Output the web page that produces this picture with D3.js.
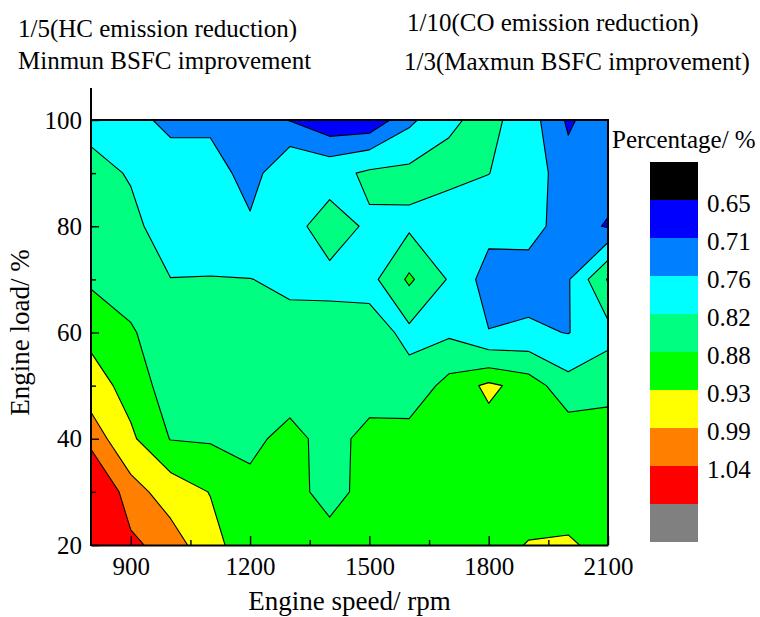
<!DOCTYPE html>
<html>
<head>
<meta charset="utf-8">
<script src="https://cdn.jsdelivr.net/npm/d3@7.9.0/dist/d3.min.js"></script>
<style>
  body { margin: 0; background: #fff; }
  svg text { font-family: 'Liberation Serif', 'Times New Roman', Times, serif; fill: #000; }
</style>
</head>
<body>
<svg id="chart" width="760" height="617"></svg>
<script>
// grid of the map: engine speed (columns) x engine load (rows, top = 100 %)
const speeds = [800, 900, 1000, 1100, 1200, 1300, 1400, 1500, 1600, 1700, 1800, 1900, 2000, 2100];
const loads = [100, 90, 80, 70, 60, 50, 40, 30, 20];

const row100 = [0.80, 0.785, 0.74, 0.745, 0.725, 0.708, 0.67, 0.67, 0.747, 0.81, 0.839, 0.785, 0.702, 0.745];
const row90  = [0.84, 0.815, 0.80, 0.79, 0.735, 0.812, 0.80, 0.83, 0.835, 0.84, 0.821, 0.79, 0.73, 0.735];
const row80  = [0.85, 0.835, 0.79, 0.79, 0.77, 0.805, 0.84, 0.813, 0.81, 0.777, 0.78, 0.78, 0.735, 0.705];
const row70  = [0.872, 0.85, 0.821, 0.822, 0.821, 0.81, 0.809, 0.80, 0.89, 0.815, 0.733, 0.735, 0.755, 0.885];
const row60  = [0.915, 0.887, 0.84, 0.845, 0.84, 0.836, 0.836, 0.844, 0.806, 0.81, 0.762, 0.77, 0.758, 0.80];
const row50  = [0.955, 0.91, 0.855, 0.86, 0.855, 0.86, 0.85, 0.86, 0.839, 0.90, 0.94, 0.911, 0.842, 0.86];
const row40  = [1.025, 0.939, 0.878, 0.875, 0.87, 0.893, 0.865, 0.893, 0.905, 0.905, 0.91, 0.905, 0.918, 0.91];
const row30  = [1.10, 1.015, 0.96, 0.928, 0.891, 0.89, 0.87, 0.89, 0.91, 0.91, 0.91, 0.91, 0.90, 0.91];
const row20  = [1.12, 1.05, 1.02, 0.95, 0.896, 0.90, 0.891, 0.90, 0.91, 0.915, 0.915, 0.932, 0.937, 0.912];
const ratio = [row100, row90, row80, row70, row60, row50, row40, row30, row20];

// colour levels (legend goes from black at the top to grey at the bottom)
const levels = [0.65, 0.71, 0.76, 0.82, 0.88, 0.93, 0.99, 1.04];
const levelLabels = ['0.65', '0.71', '0.76', '0.82', '0.88', '0.93', '0.99', '1.04'];
const bandColors = ['#000000', '#0000ff', '#0080ff', '#00ffff', '#00ff80', '#00ff00', '#ffff00', '#ff8000', '#ff0000', '#808080'];

const xTicks = [900, 1200, 1500, 1800, 2100];
const xMinor = [1050, 1350, 1650, 1950];
const yTicks = [20, 40, 60, 80, 100];
const yMinor = [30, 50, 70, 90];

const headerLeft = ['1/5(HC emission reduction)', 'Minmun BSFC improvement'];
const headerRight = ['1/10(CO emission reduction)', '1/3(Maxmun BSFC improvement)'];

const FONT = "'Liberation Serif', 'Times New Roman', Times, serif";

const svg = d3.select('#chart').attr('font-family', FONT);
svg.append('rect').attr('width', 760).attr('height', 617).attr('fill', '#fff');

const x = d3.scaleLinear().domain([800, 2100]).range([91, 608]);
const y = d3.scaleLinear().domain([20, 100]).range([545, 120]);

// contour bands
const n = speeds.length, m = loads.length;
const sStep = speeds[1] - speeds[0];
const lStep = loads[0] - loads[1];
const grid = ratio.flat();
const bands = d3.contours().size([n, m]).thresholds(levels)(grid);

// grid value i sits at contour coordinate i + 0.5
const proj = d3.geoTransform({
  point(gx, gy) {
    this.stream.point(x(speeds[0] + (gx - 0.5) * sStep), y(loads[0] - (gy - 0.5) * lStep));
  }
});
const path = d3.geoPath(proj);

svg.append('clipPath').attr('id', 'plot-clip')
  .append('rect')
  .attr('x', x(800)).attr('y', y(100))
  .attr('width', x(2100) - x(800)).attr('height', y(20) - y(100));

const plot = svg.append('g').attr('clip-path', 'url(#plot-clip)');
plot.append('rect')
  .attr('x', x(800)).attr('y', y(100))
  .attr('width', x(2100) - x(800)).attr('height', y(20) - y(100))
  .attr('fill', bandColors[0]);

plot.selectAll('path')
  .data(bands)
  .join('path')
  .attr('d', path)
  .attr('fill', (d, i) => bandColors[i + 1])
  .attr('stroke', '#000')
  .attr('stroke-width', 1.1)
  .attr('stroke-linejoin', 'round');

// frame (top + right)
svg.append('path')
  .attr('d', `M${x(800)},${y(100)}H${x(2100)}V${y(20)}`)
  .attr('fill', 'none').attr('stroke', '#000').attr('stroke-width', 2);

// x axis
const xAxis = svg.append('g').attr('transform', `translate(0,${y(20)})`);
xAxis.call(d3.axisBottom(x).tickValues(xTicks).tickSize(-9).tickPadding(12).tickSizeOuter(0).tickFormat(d3.format('d')));
xAxis.append('g').call(d3.axisBottom(x).tickValues(xMinor).tickSize(-5).tickFormat(''))
  .call(g => g.select('.domain').remove());
xAxis.select('.domain').attr('stroke-width', 2);
xAxis.selectAll('.tick line').attr('stroke-width', 1.4);

// y axis
const yAxis = svg.append('g').attr('transform', `translate(${x(800)},0)`);
yAxis.call(d3.axisLeft(y).tickValues(yTicks).tickSize(-8).tickPadding(9).tickFormat(d3.format('d')))
  .call(g => g.select('.domain').remove());
yAxis.append('g').call(d3.axisLeft(y).tickValues(yMinor).tickSize(-5).tickFormat(''))
  .call(g => g.select('.domain').remove());
yAxis.append('line').attr('x1', 0).attr('x2', 0).attr('y1', y(20) + 1).attr('y2', 88)
  .attr('stroke', '#000').attr('stroke-width', 2);
yAxis.selectAll('.tick line').attr('stroke-width', 1.4);

xAxis.attr('font-family', FONT);
yAxis.attr('font-family', FONT);
svg.selectAll('.tick text').attr('font-size', 25);

// axis titles
svg.append('text')
  .attr('x', (x(800) + x(2100)) / 2).attr('y', 610)
  .attr('text-anchor', 'middle').attr('font-size', 27)
  .text('Engine speed/ rpm');
svg.append('text')
  .attr('transform', `translate(29,${(y(20) + y(100)) / 2}) rotate(-90)`)
  .attr('text-anchor', 'middle').attr('font-size', 27)
  .text('Engine load/ %');

// header notes
svg.selectAll('.hl')
  .data(headerLeft)
  .join('text')
  .attr('class', 'hl')
  .attr('x', 18).attr('y', (d, i) => 37 + i * 32)
  .attr('font-size', 25)
  .text(d => d);
svg.selectAll('.hr')
  .data(headerRight)
  .join('text')
  .attr('class', 'hr')
  .attr('x', (d, i) => i === 0 ? 407 : 404).attr('y', (d, i) => 31 + i * 39)
  .attr('font-size', 25)
  .text(d => d);

// colour bar
const cell = 38;
const bar = svg.append('g').attr('transform', 'translate(650,162)');
bar.selectAll('rect')
  .data(bandColors)
  .join('rect')
  .attr('x', 0).attr('y', (d, i) => i * cell)
  .attr('width', 48).attr('height', cell)
  .attr('fill', d => d);
bar.selectAll('text')
  .data(levelLabels)
  .join('text')
  .attr('x', 57).attr('y', (d, i) => (i + 1) * cell + 3)
  .attr('dy', '0.35em')
  .attr('font-size', 25)
  .text(d => d);
svg.append('text')
  .attr('x', 612).attr('y', 148)
  .attr('font-size', 25)
  .text('Percentage/ %');
</script>
</body>
</html>
